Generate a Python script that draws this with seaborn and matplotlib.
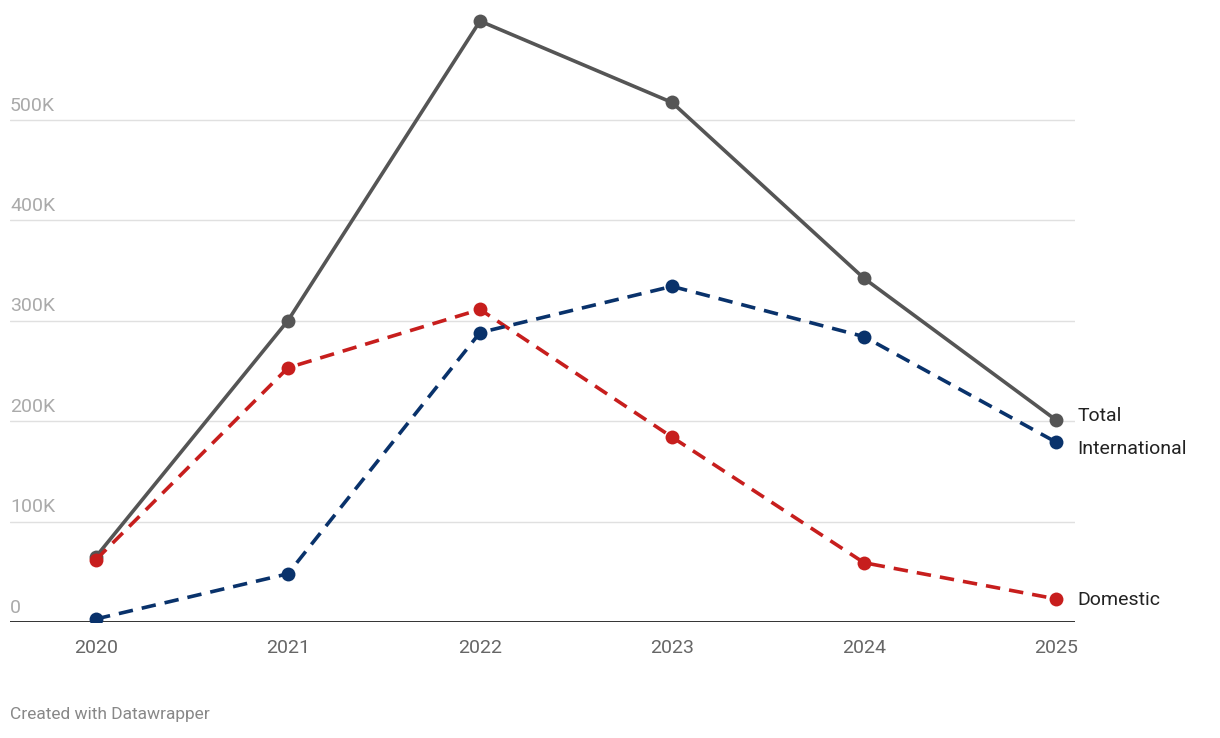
import matplotlib
matplotlib.use("Agg")
import matplotlib.pyplot as plt
import seaborn as sns
import pandas as pd

years = [2020, 2021, 2022, 2023, 2024, 2025]
total = [65000, 300000, 598000, 517000, 342000, 201000]
domestic = [62000, 253000, 311000, 184000, 59000, 23000]
international = [3000, 48000, 288000, 334000, 284000, 179000]
yticks = [0, 100000, 200000, 300000, 400000, 500000]
ytick_labels = ["0", "100K", "200K", "300K", "400K", "500K"]

sns.set_theme(style="white")
plt.rcParams['font.family'] = ['Roboto', 'DejaVu Sans']

fig = plt.figure(figsize=(12.2, 7.38), dpi=100)
ax = fig.add_axes([10/1220, 116/738, 1065/1220, (622-10)/738])

series = [("Total", total, "#555555", "-"),
          ("Domestic", domestic, "#c71e1d", (0, (4, 2.5))),
          ("International", international, "#09326b", (0, (4, 2.5)))]
for name, vals, col, ls in series:
    df = pd.DataFrame({"year": years, "v": vals})
    sns.lineplot(data=df, x="year", y="v", ax=ax, color=col, linewidth=2.6,
                 linestyle=ls, marker="o", markersize=10, markeredgewidth=0, zorder=3)

ax.set_xlim(2020 - 86/192, 2025 + 19/192)
ax.set_ylim(0, 609000)
for s in ax.spines.values():
    s.set_visible(False)
ax.axhline(0, color="#222222", lw=1.3, zorder=2)
for t, lab in zip(yticks, ytick_labels):
    if t > 0:
        ax.axhline(t, color="#e0e0e0", lw=1, zorder=1)
    ax.text(0, t + 5000, lab, transform=ax.get_yaxis_transform(), ha="left", va="bottom",
            color="#aaaaaa", fontsize=14)
ax.set_yticks([])
ax.set_xticks(years)
ax.set_xticklabels([str(y) for y in years], color="#666666", fontsize=14)
ax.tick_params(axis="x", length=0, pad=12)
ax.set_xlabel("")
ax.set_ylabel("")

ax.text(2025.11, 205000, "Total", color="#222222", fontsize=14, va="center", ha="left", clip_on=False)
ax.text(2025.11, 172000, "International", color="#222222", fontsize=14, va="center", ha="left", clip_on=False)
ax.text(2025.11, 22000, "Domestic", color="#222222", fontsize=14, va="center", ha="left", clip_on=False)

fig.text(10/1220, 1 - 714/738, "Created with Datawrapper", color="#888888", fontsize=12.5, va="center")
fig.savefig("out.png", dpi=100)
